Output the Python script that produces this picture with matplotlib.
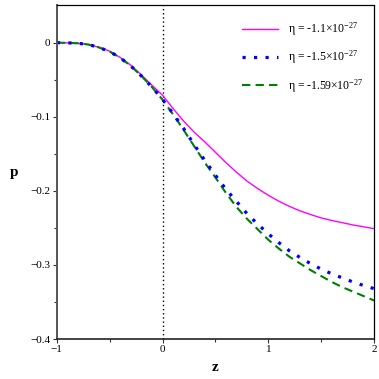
import numpy as np
import matplotlib
matplotlib.use("Agg")
import matplotlib.pyplot as plt
from matplotlib.ticker import FixedLocator

plt.rcParams['font.family'] = ['Liberation Serif', 'DejaVu Serif']
plt.rcParams['mathtext.fontset'] = 'custom'
plt.rcParams['mathtext.rm'] = 'Liberation Serif'
plt.rcParams['mathtext.it'] = 'Liberation Serif:italic'
plt.rcParams['mathtext.bf'] = 'Liberation Serif:bold'

# values
z = [-1.0, -0.9, -0.8, -0.7, -0.6, -0.5, -0.4, -0.3, -0.2, -0.1,
     0.0, 0.1, 0.2, 0.3, 0.4, 0.5, 0.6, 0.7, 0.8, 0.9,
     1.0, 1.1, 1.2, 1.3, 1.4, 1.5, 1.6, 1.7, 1.8, 1.9, 2.0]

p_11 = [0.0, -0.0002, -0.0008, -0.0025, -0.0062, -0.0115, -0.020, -0.0305, -0.0435, -0.0575,
        -0.071, -0.089, -0.106, -0.121, -0.134, -0.148, -0.162, -0.175, -0.187, -0.197,
        -0.206, -0.214, -0.221, -0.227, -0.232, -0.2365, -0.240, -0.243, -0.246, -0.2485, -0.251]

p_15 = [0.0, -0.0002, -0.0008, -0.0025, -0.0065, -0.012, -0.0205, -0.0315, -0.045, -0.060,
        -0.0765, -0.096, -0.116, -0.138, -0.159, -0.179, -0.198, -0.2145, -0.231, -0.245,
        -0.258, -0.270, -0.281, -0.290, -0.2983, -0.3056, -0.312, -0.3175, -0.323, -0.3277, -0.332]

p_159 = [0.0, -0.0002, -0.0008, -0.0025, -0.0065, -0.012, -0.0205, -0.0315, -0.045, -0.060,
         -0.077, -0.097, -0.118, -0.140, -0.162, -0.182, -0.203, -0.222, -0.238, -0.252,
         -0.266, -0.278, -0.289, -0.298, -0.307, -0.315, -0.323, -0.330, -0.336, -0.342, -0.348]

labels = ['\u03b7 = -1.1\u00d710$^{-27}$',
          '\u03b7 = -1.5\u00d710$^{-27}$',
          '\u03b7 = -1.59\u00d710$^{-27}$']

fig = plt.figure(figsize=(3.79, 3.79), dpi=100)
ax = fig.add_axes([0.150, 0.1055, 0.837, 0.8815])

ax.axvline(0, color='black', linestyle=(0, (1, 2)), linewidth=1.0, zorder=1)

l1, = ax.plot(z, p_11, color='#ff00ff', linewidth=1.0, label=labels[0])
l3, = ax.plot(z, p_159, color='#008000', linewidth=1.5, linestyle=(0, (4, 2.5)), label=labels[2])
l2, = ax.plot(z, p_15, color='#0000ff', linewidth=2.3, linestyle=(0, (1, 2.6)),
              dash_capstyle='butt', label=labels[1])

ax.set_xlim(-1, 2)
ax.set_ylim(-0.4, 0.051)

ax.xaxis.set_major_locator(FixedLocator([-1, 0, 1, 2]))
ax.xaxis.set_minor_locator(FixedLocator([-0.5, 0.5, 1.5]))
ax.yaxis.set_major_locator(FixedLocator([0, -0.1, -0.2, -0.3, -0.4]))
ax.yaxis.set_minor_locator(FixedLocator([-0.05, -0.15, -0.25, -0.35]))
ax.set_yticklabels(['0', '\u22120.1', '\u22120.2', '\u22120.3', '\u22120.4'])
ax.set_xticklabels(['\u22121', '0', '1', '2'])

ax.tick_params(which='major', direction='out', length=3, width=0.8, labelsize=8, pad=1.5,
               colors='#333333', labelcolor='black')
ax.tick_params(which='minor', direction='out', length=2, width=0.8, colors='#333333')
ax.tick_params(top=False, right=False)

ax.spines['left'].set_color('#555555')
ax.spines['left'].set_linewidth(1.4)
ax.spines['bottom'].set_color('#222222')
ax.spines['bottom'].set_linewidth(1.2)
ax.spines['top'].set_linewidth(0.9)
ax.spines['right'].set_linewidth(0.9)

ax.set_xlabel('z', fontsize=11, fontweight='bold', labelpad=5)
ax.set_ylabel('p', fontsize=11, fontweight='bold', rotation=0)
ax.yaxis.set_label_coords(-0.135, 0.48)

ax.legend(handles=[l1, l2, l3], loc='upper right', frameon=False, fontsize=8.5,
          handlelength=3.0, handletextpad=0.9, labelspacing=0.9,
          bbox_to_anchor=(1.0, 0.985))

fig.savefig('out.png', dpi=100)
